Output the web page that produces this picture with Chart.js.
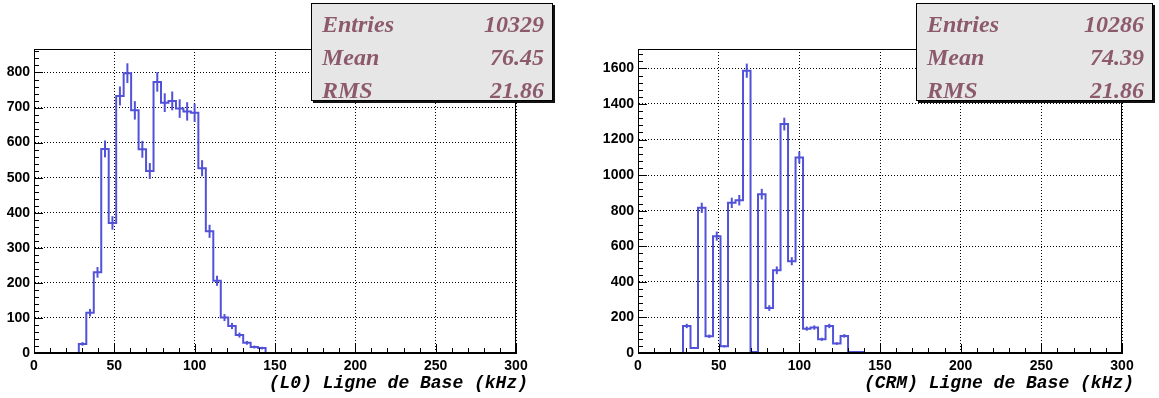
<!DOCTYPE html>
<html>
<head>
<meta charset="utf-8">
<script src="https://cdn.jsdelivr.net/npm/chart.js@4.4.1/dist/chart.umd.min.js"></script>
<style>
  body { margin: 0; background: #fff; }
  #wrap { position: relative; width: 1159px; height: 398px; overflow: hidden; }
  .pad { position: absolute; top: 0; }
  .stats {
    position: absolute; top: 3px; height: 98px; box-sizing: border-box;
    background: #e6e6e6; border: 1px solid #000; box-shadow: 2px 2px 0 #111;
    font: italic bold 24px "Liberation Serif", "DejaVu Serif", serif; color: #8c5a6c;
    padding: 4px 8px 0 10px;
  }
  .stats div { display: flex; justify-content: space-between; line-height: 33px; }
</style>
</head>
<body>
<div id="wrap">
  <canvas id="c1" class="pad" width="580" height="398" style="left:0"></canvas>
  <canvas id="c2" class="pad" width="579" height="398" style="left:580px"></canvas>
  <div class="stats" style="left:311px; width:242px">
    <div><span>Entries</span><span>10329</span></div>
    <div><span>Mean</span><span>76.45</span></div>
    <div><span>RMS</span><span>21.86</span></div>
  </div>
  <div class="stats" style="left:916px; width:237px">
    <div><span>Entries</span><span>10286</span></div>
    <div><span>Mean</span><span>74.39</span></div>
    <div><span>RMS</span><span>21.86</span></div>
  </div>
</div>
<script>
// bins (kHz)
const binStart = 27.9;
const binWidth = 4.65;
const xTicks = [0, 50, 100, 150, 200, 250, 300];

// bin contents
const l0Counts = [26, 115, 230, 582, 371, 733, 798, 692, 581, 519, 773, 714, 719,
                  697, 689, 685, 527, 347, 206, 101, 77, 51, 29, 17, 14];
const crmCounts = [152, 28, 816, 94, 657, 38, 844, 859, 1587, 6, 893, 253, 465,
                   1287, 516, 1099, 137, 143, 77, 152, 53, 96, 6, 6];

const histColor = '#5252d9';

function histPoints(counts) {
  const pts = [{ x: 0, y: 0 }];
  counts.forEach((v, i) => pts.push({ x: binStart + i * binWidth, y: v }));
  pts.push({ x: binStart + counts.length * binWidth, y: 0 }, { x: 300, y: 0 });
  return pts;
}

// error bars, frame, inward ROOT-like ticks, axis title
const rootStyle = {
  id: 'rootStyle',
  afterDatasetsDraw(chart, args, o) {
    const { ctx, chartArea: a, scales: { x, y } } = chart;
    ctx.save();
    ctx.strokeStyle = histColor;
    ctx.lineWidth = 2;
    o.counts.forEach((v, i) => {
      if (!v) return;
      const cx = x.getPixelForValue(binStart + (i + 0.5) * binWidth);
      const e = Math.sqrt(v);
      ctx.beginPath();
      ctx.moveTo(cx, y.getPixelForValue(v - e));
      ctx.lineTo(cx, y.getPixelForValue(v + e));
      ctx.stroke();
    });

    ctx.strokeStyle = '#000';
    ctx.lineWidth = 1;
    ctx.strokeRect(Math.round(a.left) + 0.5, Math.round(a.top) + 0.5,
                   Math.round(a.width) - 1, Math.round(a.height) - 1);

    ctx.beginPath();
    for (let v = 0; v <= 300; v += 10) {
      const px = Math.round(x.getPixelForValue(v)) + 0.5;
      const len = v % 50 === 0 ? 9 : 5;
      ctx.moveTo(px, a.bottom);
      ctx.lineTo(px, a.bottom - len);
    }
    for (let v = 0; v <= y.max; v += o.yMinor) {
      const py = Math.round(y.getPixelForValue(v)) + 0.5;
      const len = v % o.yMajor === 0 ? 9 : 5;
      ctx.moveTo(a.left, py);
      ctx.lineTo(a.left + len, py);
    }
    ctx.stroke();

    ctx.fillStyle = '#000';
    ctx.font = 'italic bold 18px "Liberation Mono", "DejaVu Sans Mono", monospace';
    ctx.textAlign = 'right';
    ctx.textBaseline = 'alphabetic';
    ctx.fillText(o.title, o.titleRight, 388);
    ctx.restore();
  }
};

const tickFont = { family: '"Liberation Sans", Arial, sans-serif', weight: 'bold', size: 14 };

function makeChart(id, counts, yMax, yMajor, yMinor, yWidth, padRight, title, titleRight) {
  return new Chart(document.getElementById(id), {
    type: 'line',
    data: {
      datasets: [{
        data: histPoints(counts),
        borderColor: histColor,
        borderWidth: 2,
        stepped: 'before',
        pointRadius: 0,
        fill: false
      }]
    },
    options: {
      responsive: false,
      animation: false,
      layout: { padding: { left: 0, right: padRight, top: 49, bottom: 0 } },
      plugins: {
        legend: { display: false },
        tooltip: { enabled: false },
        rootStyle: { counts, yMajor, yMinor, title, titleRight }
      },
      scales: {
        x: {
          type: 'linear', min: 0, max: 300,
          afterBuildTicks(s) { s.ticks = xTicks.map(v => ({ value: v })); },
          afterFit(s) { s.height = 45; },
          ticks: { color: '#000', font: tickFont, padding: 5, maxRotation: 0, callback: v => String(v) },
          grid: { color: '#000', lineWidth: 1, drawTicks: false },
          border: { display: true, color: '#000', dash: [1, 2] }
        },
        y: {
          type: 'linear', min: 0, max: yMax,
          afterBuildTicks(s) {
            const t = [];
            for (let v = 0; v <= yMax; v += yMajor) t.push({ value: v });
            s.ticks = t;
          },
          afterFit(s) { s.width = yWidth; },
          ticks: { color: '#000', font: tickFont, padding: 4, callback: v => String(v) },
          grid: { color: '#000', lineWidth: 1, drawTicks: false },
          border: { display: true, color: '#000', dash: [1, 2] }
        }
      }
    },
    plugins: [rootStyle]
  });
}

makeChart('c1', l0Counts, 867, 100, 20, 34, 64, '(L0) Ligne de Base (kHz)', 528);
makeChart('c2', crmCounts, 1709, 200, 40, 58, 37, '(CRM) Ligne de Base (kHz)', 554);
</script>
</body>
</html>
